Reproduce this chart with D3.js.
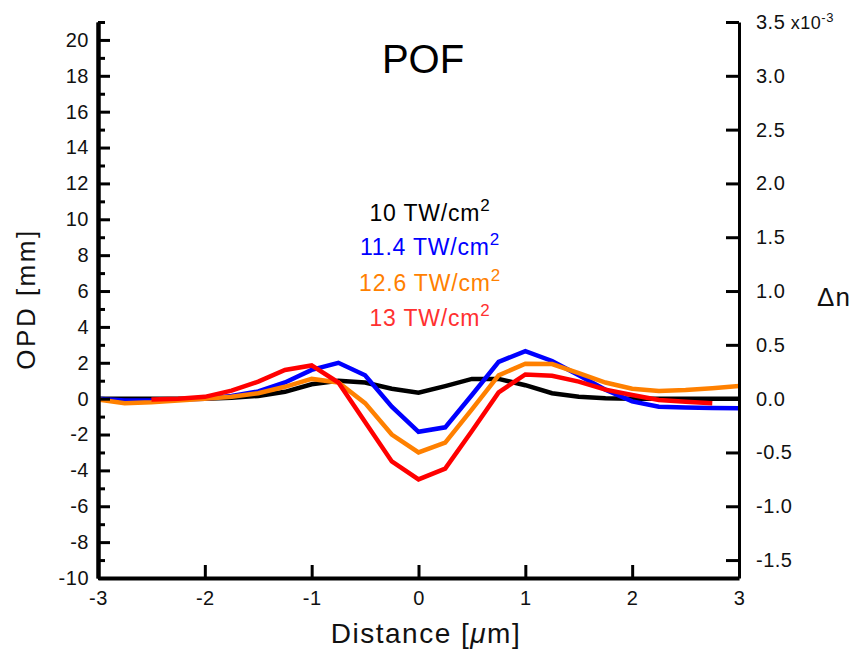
<!DOCTYPE html>
<html><head><meta charset="utf-8">
<script src="https://cdn.jsdelivr.net/npm/d3@7"></script>
<style>
body{margin:0;background:#fff}
svg{font-family:"Liberation Sans",Arial,Helvetica,sans-serif}
</style></head>
<body><svg id="c" width="851" height="655"></svg>
<script>
// Data
const distance = [-3,-2.75,-2.5,-2.25,-2,-1.75,-1.5,-1.25,-1,-0.75,-0.5,-0.25,0,0.25,0.5,0.75,1,1.25,1.5,1.75,2,2.25,2.5,2.75,3];
const opd10  = [0,0,0,0,0,0.05,0.15,0.38,0.8,1.0,0.9,0.55,0.33,0.7,1.1,1.1,0.75,0.3,0.1,0.02,0,0,0,0,0];
const opd114 = [0,-0.1,-0.1,-0.05,0,0.15,0.4,0.9,1.6,2.0,1.3,-0.45,-1.85,-1.6,0.2,2.05,2.65,2.1,1.3,0.5,-0.15,-0.45,-0.5,-0.52,-0.53];
const opd126 = [-0.05,-0.26,-0.2,-0.1,0,0.1,0.3,0.66,1.1,0.9,-0.25,-2.0,-3.0,-2.45,-0.6,1.3,1.95,1.93,1.42,0.9,0.55,0.42,0.48,0.58,0.7];
const opd13  = [null,null,-0.05,0,0.1,0.45,0.95,1.6,1.85,0.9,-1.3,-3.5,-4.5,-3.9,-1.8,0.35,1.35,1.28,0.95,0.5,0.2,-0.08,-0.17,-0.25,null];
const seriesNames = ["10 TW/cm", "11.4 TW/cm", "12.6 TW/cm", "13 TW/cm"];
const seriesColors = ["#000000", "#0000ff", "#ff8000", "#ff0000"];
const legendColors = ["#000000", "#0000ff", "#ff8000", "#ff3030"];
const xTicks = [-3,-2,-1,0,1,2,3];
const yMajor = [-10,-8,-6,-4,-2,0,2,4,6,8,10,12,14,16,18,20];
const yMinor = [-9,-7,-5,-3,-1,1,3,5,7,9,11,13,15,17,19,21];
const rTicks = [-1.5,-1.0,-0.5,0.0,0.5,1.0,1.5,2.0,2.5,3.0,3.5];
const xDomain = [-3,3];
const yDomain = [-10,21];
const opdPerDn = 6; // mm of OPD per 1e-3 of Δn (right axis relation)

const svg = d3.select("#c");
const x = d3.scaleLinear().domain(xDomain).range([98,739]);
const y = d3.scaleLinear().domain(yDomain).range([578,22]);
const yR = d3.scaleLinear().domain(yDomain.map(v => v/opdPerDn)).range([578,22]);
const fmtMinus = s => s.replace("\u2212","-");

// Lines
const allSeries = [opd10, opd114, opd126, opd13];
const line = d3.line().defined(d => d[1] != null).x(d => x(d[0])).y(d => y(d[1]));
allSeries.forEach((vals, i) => {
  svg.append("path")
    .datum(distance.map((dd, j) => [dd, vals[j]]))
    .attr("d", line)
    .attr("fill", "none")
    .attr("stroke", seriesColors[i])
    .attr("stroke-width", 4.5)
    .attr("stroke-linejoin", "miter");
});

function styleAxis(g, w) {
  g.select(".domain").attr("stroke", "#000").attr("stroke-width", w);
  g.selectAll(".tick line").attr("stroke", "#000").attr("stroke-width", 3);
  g.selectAll("text").attr("fill", "#111").attr("font-size", 20).attr("letter-spacing", 0.5)
    .attr("font-family", "'Liberation Sans',Arial,Helvetica,sans-serif");
}

// Left axis
const gL = svg.append("g").attr("transform", "translate(98,0)")
  .call(d3.axisLeft(y).tickValues(yMajor).tickSizeInner(-12).tickSizeOuter(0).tickPadding(9).tickFormat(d => String(d)));
styleAxis(gL, 4);
const gLm = svg.append("g").attr("transform", "translate(98,0)")
  .call(d3.axisLeft(y).tickValues(yMinor).tickSizeInner(-7).tickSizeOuter(0).tickFormat(""));
styleAxis(gLm, 4);

// Bottom axis
const gB = svg.append("g").attr("transform", "translate(0,578)")
  .call(d3.axisBottom(x).tickValues(xTicks).tickSizeInner(-13).tickSizeOuter(0).tickPadding(13).tickFormat(d => String(d)));
styleAxis(gB, 4);

// Right axis
const gR = svg.append("g").attr("transform", "translate(739,0)")
  .call(d3.axisRight(yR).tickValues(rTicks).tickSizeInner(-13).tickSizeOuter(0).tickPadding(17).tickFormat(d => fmtMinus(d3.format(".1f")(d))));
styleAxis(gR, 3);
gR.selectAll(".tick").filter(d => d === 3.5).select("text").each(function() {
  const t = d3.select(this);
  t.append("tspan").attr("font-size", 18).text(" x10");
  t.append("tspan").attr("dy", "-0.5em").attr("font-size", 13).text("-3");
});

// Titles
svg.append("text").attr("x", 423).attr("y", 73).attr("text-anchor", "middle")
  .attr("font-size", 40).attr("fill", "#000").text("POF");
svg.append("text").attr("transform", "translate(35,299) rotate(-90)").attr("text-anchor", "middle")
  .attr("font-size", 26).attr("letter-spacing", 2.5).attr("fill", "#111").text("OPD [mm]");
const xt = svg.append("text").attr("x", 426).attr("y", 643).attr("text-anchor", "middle")
  .attr("font-size", 28).attr("letter-spacing", 1.5).attr("fill", "#111");
xt.append("tspan").text("Distance [");
xt.append("tspan").attr("font-style", "italic").text("\u03bc");
xt.append("tspan").text("m]");
svg.append("text").attr("x", 834).attr("y", 306).attr("text-anchor", "middle")
  .attr("font-size", 26).attr("letter-spacing", 1).attr("fill", "#111").text("\u0394n");

// Legend
const legendY = [221, 255, 291, 326];
seriesNames.forEach((name, i) => {
  const t = svg.append("text").attr("x", 430).attr("y", legendY[i]).attr("text-anchor", "middle")
    .attr("font-size", 23).attr("letter-spacing", 0.8).attr("fill", legendColors[i]);
  t.append("tspan").text(name);
  t.append("tspan").attr("dy", -10).attr("font-size", 17).text("2");
});
</script></body></html>
